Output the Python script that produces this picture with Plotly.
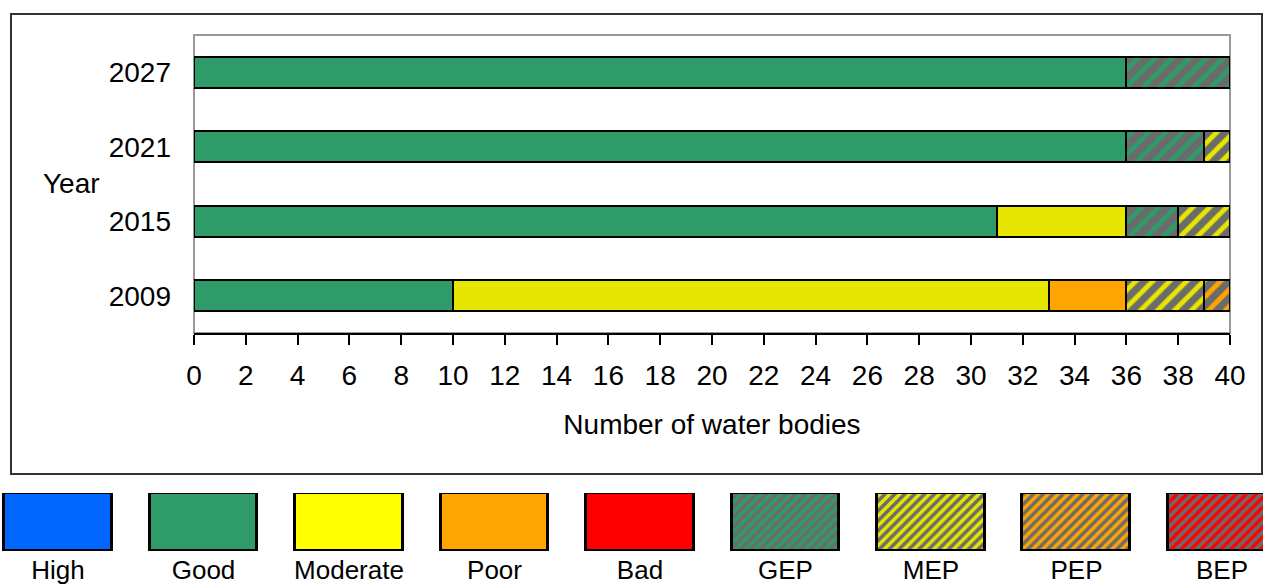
import plotly.graph_objects as go

# ---- data ----
years = ["2009", "2015", "2021", "2027"]
good = [10, 31, 36, 36]
moderate = [23, 5, None, None]
poor = [3, None, None, None]
gep = [None, 2, 3, 4]
mep = [3, 2, 1, None]
pep = [1, None, None, None]

legend_names = ["High", "Good", "Moderate", "Poor", "Bad", "GEP", "MEP", "PEP", "BEP"]
legend_colors = ["#0066ff", "#2e9b69", "#ffff00", "#ffa500", "#ff0000",
                 "#2e9b69", "#e6e600", "#ffa500", "#ff0000"]
legend_hatched = [False, False, False, False, False, True, True, True, True]
legend_value = [1, 1, 1, 1, 1, 1, 1, 1, 1]

W, H = 1263, 587
FONT = "Liberation Sans, Arial, sans-serif"
GRAY = "#6b6b6b"

fig = go.Figure()

series = [
    ("Good", good, "#2e9b69", False),
    ("Moderate", moderate, "#e6e600", False),
    ("Poor", poor, "#ffa500", False),
    ("GEP", gep, "#2e9b69", True),
    ("MEP", mep, "#e6e600", True),
    ("PEP", pep, "#ffa500", True),
]
for name, vals, col, hatch in series:
    marker = dict(color=col, line=dict(color="black", width=2))
    if hatch:
        marker["pattern"] = dict(shape="/", bgcolor=GRAY, fgcolor=col, fgopacity=1,
                                 size=12, solidity=0.4, fillmode="replace")
    fig.add_trace(go.Bar(y=years, x=vals, orientation="h", name=name,
                         marker=marker, width=0.416, showlegend=False,
                         xaxis="x", yaxis="y"))

# legend boxes drawn as bars on a separate axis
for name, col, hatch, v in zip(legend_names, legend_colors, legend_hatched, legend_value):
    marker = dict(color=col, line=dict(color="black", width=3))
    if hatch:
        marker["pattern"] = dict(shape="/", bgcolor=GRAY, fgcolor=col, fgopacity=1,
                                 size=7, solidity=0.5, fillmode="replace")
    fig.add_trace(go.Bar(x=[name], y=[v], name=name, marker=marker,
                         width=0.742, showlegend=False, xaxis="x2", yaxis="y2"))

def px_x(p):
    return p / W

def px_y(p):
    return 1 - p / H

fig.update_layout(
    template="none",
    width=W, height=H, autosize=False,
    margin=dict(l=0, r=0, t=0, b=0, pad=0, autoexpand=False),
    paper_bgcolor="white", plot_bgcolor="white",
    barmode="stack", bargap=0,
    font=dict(family=FONT, size=28, color="black"),
    xaxis=dict(domain=[px_x(194), px_x(1230)], range=[0, 40], dtick=2,
               showline=True, linecolor="black", linewidth=2,
               ticks="outside", ticklen=10, tickwidth=1.5, tickcolor="black",
               showgrid=False, zeroline=False, anchor="y", automargin=False,
               ticklabelstandoff=6,
               title=dict(text="Number of water bodies", standoff=25,
                          font=dict(size=28))),
    yaxis=dict(type="category", domain=[px_y(333), px_y(35)], categoryorder="array",
               categoryarray=years, showgrid=False, zeroline=False,
               showline=False, ticks="", ticklabelstandoff=22, anchor="x",
               automargin=False),
    xaxis2=dict(type="category", domain=[0, 1], range=[-0.3986, 8.282], anchor="y2",
                showline=False, showgrid=False, zeroline=False, ticks="",
                tickfont=dict(size=26), categoryorder="array",
                categoryarray=legend_names, ticklabelstandoff=1, automargin=False),
    yaxis2=dict(domain=[px_y(551), px_y(493)], range=[0, 1], anchor="x2",
                visible=False, automargin=False),
)

# plot-area border (gray) and outer chart box
fig.add_shape(type="rect", xref="x domain", yref="y domain", x0=0, x1=1, y0=0, y1=1,
              line=dict(color="#999999", width=2), layer="below")
fig.add_shape(type="rect", xref="paper", yref="paper",
              x0=px_x(11), x1=px_x(1262), y0=px_y(474), y1=px_y(14),
              line=dict(color="#333333", width=2), layer="below")

fig.add_annotation(text="Year", xref="paper", yref="paper",
                   x=px_x(71), y=px_y(183), showarrow=False,
                   font=dict(size=28), xanchor="center", yanchor="middle")

fig.write_html("out.html", config={"displayModeBar": False},
               post_script="document.body.style.margin='0';document.body.style.overflow='hidden';")
